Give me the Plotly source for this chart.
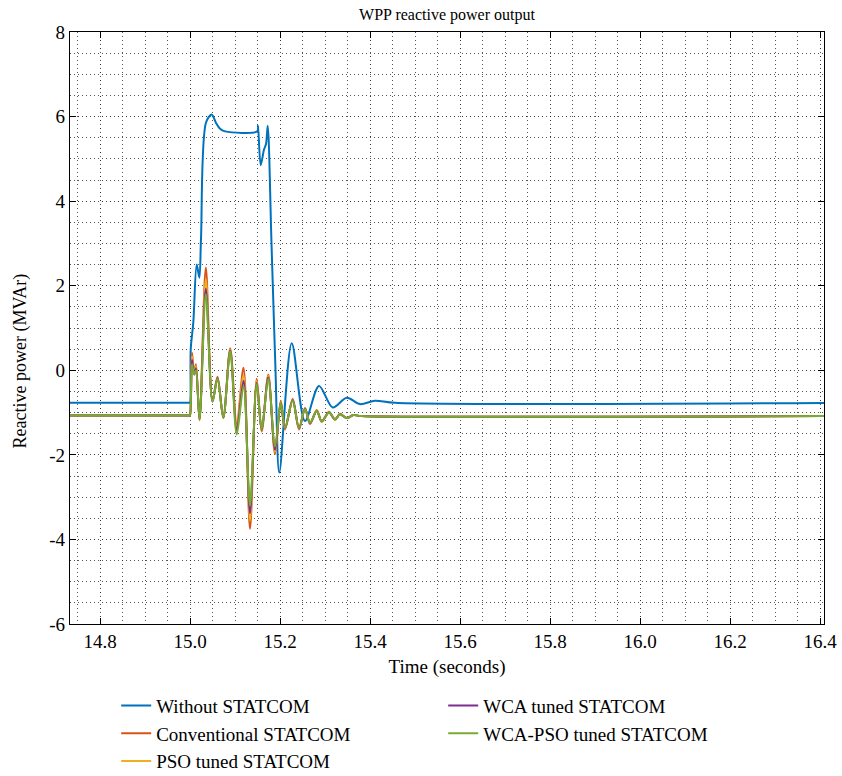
import plotly.graph_objects as go

# Time axis samples (s) for the STATCOM-equipped cases
t_statcom = [14.70, 14.999, 15.000, 15.0044, 15.0093, 15.0133, 15.0211, 15.0351, 15.0500,
             15.0611, 15.0740, 15.0893, 15.1038, 15.1189, 15.1333, 15.1482, 15.1593,
             15.1740, 15.1889, 15.2016, 15.2111, 15.2282, 15.2422, 15.2556, 15.2667,
             15.2816, 15.2927, 15.3089, 15.3222, 15.3333, 15.3482, 15.3629, 15.3800, 16.45]

q_conventional = [-1.07, -1.07, -1.07, 0.42, -0.08, 0.14, -1.18, 2.43, -0.72, -0.15, -1.12, 0.52,
                  -1.28, 0.06, -3.75, -0.20, -1.45, -0.10, -1.98, -0.72, -1.40, -0.68, -1.40,
                  -0.89, -1.27, -0.94, -1.22, -0.98, -1.17, -1.03, -1.13, -1.06, -1.08, -1.08]
q_pso = [-1.07, -1.07, -1.07, 0.33, -0.09, 0.10, -1.17, 2.15, -0.73, -0.17, -1.12, 0.49,
         -1.34, -0.12, -3.55, -0.25, -1.43, -0.13, -1.93, -0.74, -1.38, -0.70, -1.38,
         -0.90, -1.26, -0.95, -1.21, -0.99, -1.17, -1.04, -1.13, -1.06, -1.08, -1.08]
q_wca = [-1.07, -1.07, -1.07, 0.25, -0.10, 0.05, -1.16, 1.93, -0.74, -0.18, -1.12, 0.47,
         -1.42, -0.25, -3.38, -0.30, -1.41, -0.17, -1.88, -0.76, -1.37, -0.71, -1.37,
         -0.91, -1.25, -0.96, -1.20, -1.00, -1.16, -1.04, -1.13, -1.06, -1.08, -1.08]
q_wca_pso = [-1.07, -1.07, -1.07, 0.14, -0.10, 0.00, -1.16, 1.80, -0.74, -0.20, -1.12, 0.45,
             -1.52, -0.37, -3.20, -0.33, -1.39, -0.20, -1.80, -0.77, -1.36, -0.72, -1.36,
             -0.92, -1.24, -0.96, -1.20, -1.00, -1.16, -1.04, -1.13, -1.06, -1.08, -1.08]

# Case without STATCOM
t_base = [14.70, 14.999, 15.000, 15.0016, 15.0073, 15.0149, 15.0207, 15.0244, 15.0356, 15.0482,
          15.0578, 15.0667, 15.0778, 15.1496, 15.1511, 15.1571, 15.1644, 15.1689, 15.1727,
          15.1811, 15.1900, 15.1984, 15.2260, 15.2556, 15.2867, 15.3171, 15.3482, 15.3778,
          15.4111, 15.4556, 16.45]
q_base = [-0.77, -0.77, -0.77, 0.50, 1.13, 2.50, 2.19, 3.10, 5.86, 6.05,
          5.85, 5.71, 5.65, 5.65, 5.79, 4.85, 5.22, 5.35, 5.78,
          3.00, 0.00, -2.42, 0.64, -1.20, -0.37, -0.88, -0.65, -0.80,
          -0.72, -0.77, -0.77]

x_ticks = [14.8, 15.0, 15.2, 15.4, 15.6, 15.8, 16.0, 16.2, 16.4]
y_ticks = [-6, -4, -2, 0, 2, 4, 6, 8]

FONT = "Liberation Serif"

series = [
    ("Without STATCOM", t_base, q_base, "#0072BD", 1),
    ("Conventional STATCOM", t_statcom, q_conventional, "#D95319", 3),
    ("PSO tuned STATCOM", t_statcom, q_pso, "#EDB120", 5),
    ("WCA tuned STATCOM", t_statcom, q_wca, "#7E2F8E", 2),
    ("WCA-PSO tuned STATCOM", t_statcom, q_wca_pso, "#77AC30", 4),
]

fig = go.Figure()
for name, t, q, color, rank in series:
    fig.add_trace(go.Scatter(
        x=t, y=q, mode="lines", name=name, legendrank=rank,
        line=dict(color=color, width=2, shape="spline", smoothing=0.9),
    ))

axis_common = dict(
    showline=True, linecolor="black", linewidth=1.2, mirror="ticks",
    ticks="inside", ticklen=6, tickcolor="black", tickwidth=1,
    showgrid=True, gridcolor="rgba(30,30,30,0.7)", gridwidth=1, griddash="1px,7px",
    zeroline=False,
    tickfont=dict(family=FONT, size=19, color="black"),
)

fig.update_layout(
    width=842, height=776,
    margin=dict(l=70, r=18, t=32, b=152, autoexpand=False),
    paper_bgcolor="white", plot_bgcolor="white",
    font=dict(family=FONT, color="black"),
    title=dict(text="WPP reactive power output", x=0.5, xanchor="center",
               xref="paper", y=0.982, yanchor="middle", font=dict(family=FONT, size=16)),
    showlegend=True,
    legend=dict(
        orientation="h", xref="container", x=0.138, xanchor="left",
        yref="container", y=0.115, yanchor="top",
        entrywidth=282, entrywidthmode="pixels", traceorder="normal",
        font=dict(family=FONT, size=19), bgcolor="rgba(0,0,0,0)",
    ),
    annotations=[dict(
        text="Reactive power (MVAr)", textangle=-90,
        xref="paper", x=-0.066, xanchor="center",
        yref="paper", y=0.444, yanchor="middle",
        showarrow=False, font=dict(family=FONT, size=18),
    )],
)

fig.update_xaxes(
    range=[14.7333, 16.4089], tickvals=x_ticks, ticktext=[f"{v:.1f}" for v in x_ticks],
    title=dict(text="Time (seconds)", font=dict(family=FONT, size=19), standoff=8),
    minor=dict(dtick=0.05, tick0=14.8, showgrid=True, gridcolor="rgba(30,30,30,0.75)",
               gridwidth=1, griddash="1px,3px", ticks=""),
    **axis_common,
)
fig.update_yaxes(
    range=[-6, 8], tickvals=y_ticks, ticktext=[str(v) for v in y_ticks],
    minor=dict(dtick=0.5, tick0=0, showgrid=True, gridcolor="rgba(30,30,30,0.75)",
               gridwidth=1, griddash="1px,3px", ticks=""),
    **axis_common,
)

fig.write_html("out.html")
